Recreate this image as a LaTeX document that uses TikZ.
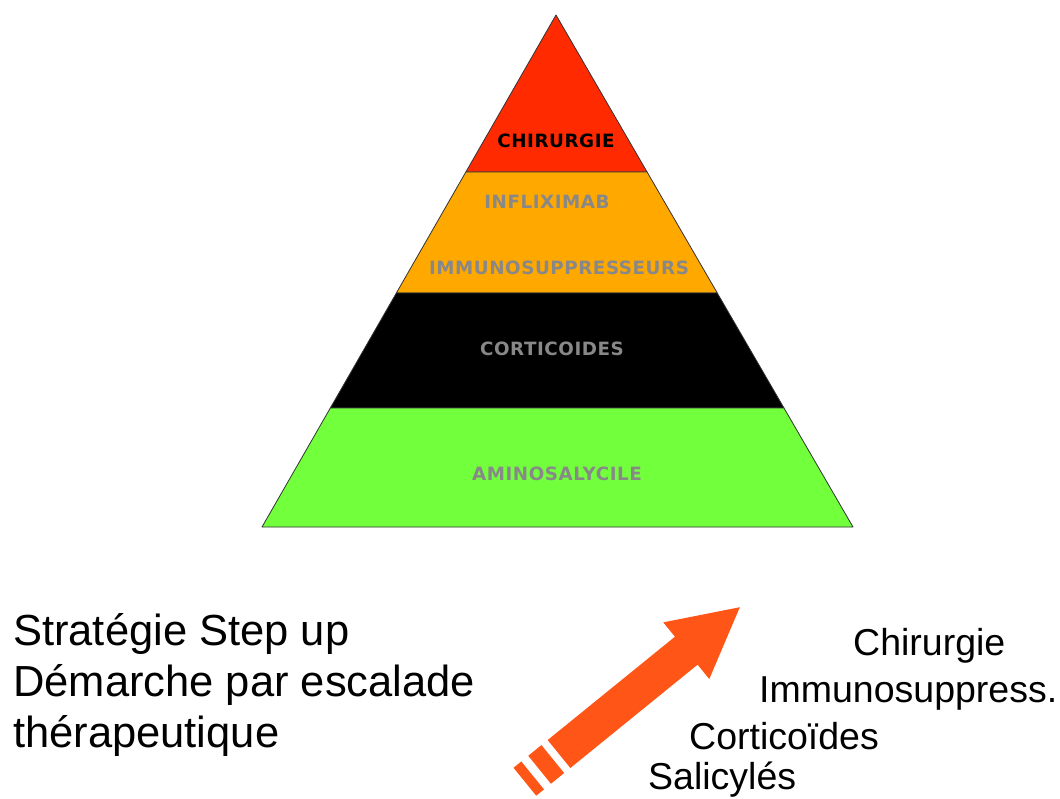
\documentclass[tikz,border=0pt]{standalone}
\usepackage{fontspec}
\setmainfont{Liberation Sans}
\newfontfamily\pyrfont[LetterSpace=3]{DejaVu Sans}
\usetikzlibrary{calc}
\definecolor{topred}{RGB}{255,42,0}
\definecolor{midorange}{RGB}{255,168,0}
\definecolor{basegreen}{RGB}{114,255,60}
\definecolor{arrowred}{RGB}{255,85,22}
\definecolor{labelgray}{RGB}{136,136,136}
\begin{document}
\begin{tikzpicture}[x=1pt,y=-1pt,
  band/.style={draw=black!80, line width=0.8pt, line join=round},
  pyrlabel/.style={inner sep=0pt, font=\pyrfont\bfseries\fontsize{18.3}{21}\selectfont, text=labelgray},
  bigtext/.style={inner sep=0pt, anchor=base west, font=\fontsize{43.5}{51}\selectfont},
  steptext/.style={inner sep=0pt, anchor=base west, font=\fontsize{37.5}{44}\selectfont}]
\useasboundingbox (0,0) rectangle (1060,798);
\fill[white] (0,0) rectangle (1060,798);
% pyramid geometry
\coordinate (apex) at (556,15);
\coordinate (bl) at (262,527);
\coordinate (br) at (853,527);
\coordinate (l1) at ($(apex)!0.3066!(bl)$);
\coordinate (r1) at ($(apex)!0.3066!(br)$);
\coordinate (l2) at ($(apex)!0.543!(bl)$);
\coordinate (r2) at ($(apex)!0.543!(br)$);
\coordinate (l3) at ($(apex)!0.7676!(bl)$);
\coordinate (r3) at ($(apex)!0.7676!(br)$);
\filldraw[band, fill=topred] (apex) -- (r1) -- (l1) -- cycle;
\filldraw[band, fill=midorange] (l1) -- (r1) -- (r2) -- (l2) -- cycle;
\filldraw[band, fill=black] (l2) -- (r2) -- (r3) -- (l3) -- cycle;
\filldraw[band, fill=basegreen] (l3) -- (r3) -- (br) -- (bl) -- cycle;
% pyramid labels
\node[pyrlabel, text=black] (chir) at (556,141) {CHIRURGIE};
\node[pyrlabel] (infl) at (547,202) {INFLIXIMAB};
\node[pyrlabel] (immu) at (559,268) {IMMUNOSUPPRESSEURS};
\node[pyrlabel] (cort) at (552,349) {CORTICOIDES};
\node[pyrlabel] (amin) at (557,474) {AMINOSALYCILE};
% left text
\node[bigtext] (t1) at (13,645) {Stratégie Step up};
\node[bigtext] (t2) at (13,696) {Démarche par escalade};
\node[bigtext] (t3) at (13,747) {thérapeutique};
% arrow
\begin{scope}[shift={(559,754)}, x={(0.776pt,0.630pt)}, y={(-0.630pt,0.776pt)}]
  \fill[arrowred] (0,-18) -- (164,-18) -- (164,-36.5) -- (233,0) -- (164,36.5) -- (164,18) -- (0,18) -- cycle;
  \fill[arrowred] (-25,-18) -- (-8,-18) -- (-8,18) -- (-25,18) -- cycle;
  \fill[arrowred] (-44,-18) -- (-34,-18) -- (-34,18) -- (-44,18) -- cycle;
\end{scope}
% right labels
\node[steptext] (s4) at (853,655) {Chirurgie};
\node[steptext] (s3) at (759,702) {Immunosuppress.};
\node[steptext] (s2) at (689,749) {Corticoïdes};
\node[steptext] (s1) at (648,789) {Salicylés};
\end{tikzpicture}
\end{document}
